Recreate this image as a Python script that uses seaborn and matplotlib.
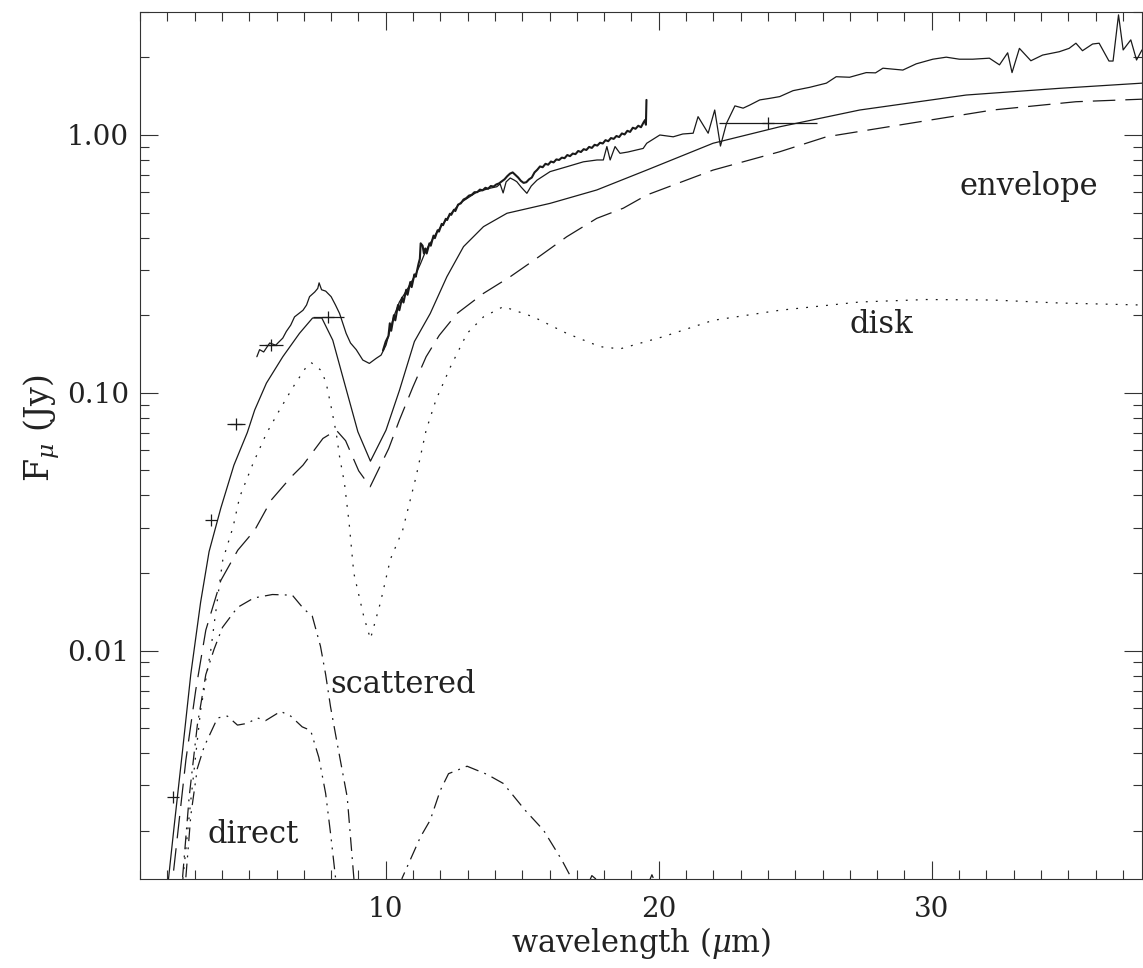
import numpy as np
import matplotlib
matplotlib.use("Agg")
import matplotlib.pyplot as plt
from matplotlib.ticker import MultipleLocator, LogLocator, NullFormatter
import seaborn as sns

# total model SED
model_wl = [2.00, 2.25, 2.56, 2.86, 3.22, 3.53, 3.96, 4.44, 4.93, 5.20, 5.63, 6.23, 6.84,
            7.32, 7.66, 8.06, 8.43, 8.98, 9.44, 10.01, 10.50, 11.05, 11.63, 12.24, 12.85,
            13.58, 14.44, 16.02, 17.73, 19.56, 21.99, 24.43, 27.36, 31.26, 34.67, 37.70]
model_flux = [0.00118, 0.00208, 0.00411, 0.00809, 0.0154, 0.0242, 0.0357, 0.0524, 0.0701,
              0.0857, 0.109, 0.138, 0.170, 0.195, 0.195, 0.160, 0.115, 0.0706, 0.0543,
              0.0716, 0.102, 0.158, 0.203, 0.282, 0.369, 0.441, 0.497, 0.543, 0.612, 0.731,
              0.929, 1.076, 1.250, 1.429, 1.517, 1.589]

# envelope component
env_wl = [2.10, 2.68, 3.04, 3.41, 3.96, 4.58, 5.20, 5.81, 6.54, 6.97, 7.70, 8.19, 8.53,
          9.01, 9.43, 10.11, 10.50, 10.99, 11.48, 11.96, 12.61, 13.58, 14.56, 15.54,
          16.63, 17.73, 18.70, 19.56, 21.99, 24.43, 26.14, 29.18, 32.23, 35.28, 37.70]
env_flux = [0.00105, 0.00376, 0.00701, 0.0120, 0.0187, 0.0245, 0.0293, 0.0384, 0.0472,
            0.0524, 0.0665, 0.0716, 0.0652, 0.0498, 0.0432, 0.0608, 0.0783, 0.105, 0.138,
            0.167, 0.203, 0.243, 0.282, 0.333, 0.403, 0.475, 0.520, 0.585, 0.731, 0.861,
            0.984, 1.109, 1.250, 1.346, 1.377]

# disk component
disk_wl = [2.57, 2.86, 3.22, 3.59, 3.75, 4.03, 4.41, 4.65, 5.14, 5.63, 6.11, 6.60, 7.09,
           7.27, 7.64, 7.82, 8.00, 8.19, 8.31, 8.49, 8.66, 8.83, 9.20, 9.44, 9.81, 10.17,
           10.62, 11.11, 11.48, 11.84, 12.37, 12.98, 13.58, 14.31, 15.41, 16.63, 17.85,
           18.58, 20.16, 21.99, 24.43, 27.36, 29.80, 32.23, 34.67, 37.70]
disk_flux = [0.0013, 0.00262, 0.00587, 0.0100, 0.0135, 0.0224, 0.0302, 0.0394, 0.0532,
             0.0695, 0.0857, 0.105, 0.126, 0.131, 0.122, 0.109, 0.0883, 0.0695, 0.0565,
             0.0445, 0.0312, 0.0200, 0.0135, 0.0111, 0.0154, 0.0226, 0.0293, 0.0472,
             0.0716, 0.0938, 0.126, 0.170, 0.197, 0.216, 0.197, 0.170, 0.151, 0.148, 0.165,
             0.191, 0.209, 0.225, 0.230, 0.229, 0.223, 0.219]

# scattered light
scat_wl = [2.56, 2.80, 3.10, 3.41, 3.71, 4.02, 4.57, 5.17, 5.85, 6.58, 7.00, 7.31, 7.61,
           7.80, 7.98, 8.22, 8.59, 8.83, 9.20, 10.00, 10.60, 11.27, 11.63, 12.00, 12.30,
           12.98, 13.71, 14.31, 15.11, 15.78, 16.45, 16.82, 17.20, 17.55, 17.85, 18.20,
           19.40, 19.75, 20.10, 21.00]
scat_flux = [0.00132, 0.0027, 0.00514, 0.00807, 0.0101, 0.0123, 0.0147, 0.0160, 0.0165,
             0.0164, 0.0145, 0.0136, 0.0104, 0.00807, 0.00604, 0.00438, 0.0027, 0.00132,
             0.0005, 0.0005, 0.00131, 0.00189, 0.0022, 0.00287, 0.00333, 0.00356, 0.00331,
             0.00305, 0.0024, 0.00201, 0.00154, 0.0013, 0.0011, 0.00134, 0.00126, 0.0011,
             0.0011, 0.00135, 0.0011, 0.0008]

# direct stellar light
direct_wl = [2.68, 2.86, 3.10, 3.35, 3.84, 4.20, 4.57, 4.93, 5.30, 5.60, 6.15, 6.52, 6.94,
             7.25, 7.55, 7.80, 7.98, 8.16, 8.40]
direct_flux = [0.00132, 0.00229, 0.00349, 0.00424, 0.00548, 0.00557, 0.00514, 0.00522,
               0.00548, 0.00535, 0.00581, 0.00557, 0.00506, 0.0049, 0.00385, 0.00279,
               0.00195, 0.00132, 0.0008]

# low resolution spectrum
spec_wl = [5.28, 5.38, 5.53, 5.75, 5.97, 6.23, 6.36, 6.52, 6.66, 6.97, 7.10, 7.21, 7.40,
           7.51, 7.56, 7.65, 7.80, 8.00, 8.16, 8.31, 8.55, 8.71, 8.92, 9.16, 9.40, 9.65,
           9.83, 10.01, 10.29, 10.50, 10.78, 11.11, 11.27, 11.48, 11.88, 12.37, 12.73,
           13.34, 13.83, 14.07, 14.19, 14.30, 14.41, 14.56, 14.71, 14.80, 14.96, 15.17,
           15.33, 15.54, 16.02, 16.63, 17.24, 17.74, 17.97, 18.10, 18.22, 18.40, 18.58,
           18.87, 19.19, 19.43, 19.56, 20.04, 20.53, 20.88, 21.26, 21.44, 21.81, 22.05,
           22.26, 22.48, 22.79, 23.09, 23.33, 23.70, 24.06, 24.43, 24.92, 25.53, 26.14,
           26.50, 26.99, 27.60, 27.94, 28.21, 28.94, 29.43, 30.04, 30.53, 31.01, 31.50,
           32.11, 32.48, 32.78, 32.94, 33.21, 33.63, 34.06, 34.67, 35.03, 35.28, 35.52,
           35.89, 36.13, 36.49, 36.64, 36.84, 37.01, 37.29, 37.50, 37.70]
spec_flux = [0.138, 0.147, 0.144, 0.156, 0.153, 0.163, 0.173, 0.183, 0.197, 0.209, 0.219,
             0.236, 0.246, 0.254, 0.267, 0.251, 0.248, 0.236, 0.219, 0.203, 0.170, 0.156,
             0.147, 0.134, 0.130, 0.136, 0.140, 0.153, 0.197, 0.225, 0.251, 0.290, 0.316,
             0.358, 0.421, 0.493, 0.545, 0.601, 0.622, 0.630, 0.646, 0.596, 0.658, 0.681,
             0.668, 0.659, 0.628, 0.594, 0.634, 0.668, 0.721, 0.753, 0.787, 0.800, 0.800,
             0.902, 0.800, 0.902, 0.849, 0.859, 0.875, 0.887, 0.929, 1.000, 0.984, 1.009,
             1.016, 1.178, 1.016, 1.250, 0.906, 1.109, 1.297, 1.271, 1.306, 1.368, 1.387,
             1.409, 1.486, 1.531, 1.589, 1.683, 1.675, 1.746, 1.742, 1.816, 1.786, 1.888,
             1.968, 2.004, 1.968, 1.968, 1.986, 1.871, 2.084, 1.746, 2.168, 1.941, 2.042,
             2.104, 2.168, 2.270, 2.123, 2.254, 2.270, 1.936, 1.936, 2.924, 2.138, 2.339,
             1.954, 2.138]

# higher resolution (noisy) spectrum
irs_wl = [9.90, 10.00, 10.10, 10.15, 10.20, 10.30, 10.35, 10.45, 10.50, 10.60, 10.65,
          10.75, 10.80, 10.90, 10.95, 11.05, 11.10, 11.20, 11.25, 11.28, 11.35, 11.40,
          11.45, 11.50, 11.60, 11.65, 11.75, 11.80, 11.90, 11.95, 12.05, 12.10, 12.20,
          12.25, 12.35, 12.40, 12.50, 12.55, 12.65, 12.75, 12.85, 12.95, 13.05, 13.15,
          13.25, 13.35, 13.45, 13.55, 13.65, 13.75, 13.85, 13.95, 14.05, 14.15, 14.25,
          14.35, 14.45, 14.55, 14.65, 14.75, 14.85, 14.95, 15.05, 15.15, 15.25, 15.35,
          15.45, 15.55, 15.65, 15.75, 15.85, 15.95, 16.05, 16.15, 16.25, 16.35, 16.45,
          16.55, 16.65, 16.75, 16.85, 16.95, 17.05, 17.15, 17.25, 17.35, 17.45, 17.55,
          17.65, 17.75, 17.85, 17.95, 18.05, 18.15, 18.25, 18.35, 18.45, 18.55, 18.65,
          18.75, 18.85, 18.95, 19.05, 19.15, 19.25, 19.35, 19.45, 19.50, 19.53, 19.55]
irs_flux = [0.146, 0.158, 0.166, 0.186, 0.174, 0.200, 0.191, 0.219, 0.209, 0.234, 0.224,
            0.251, 0.240, 0.269, 0.257, 0.288, 0.282, 0.316, 0.331, 0.380, 0.372, 0.347,
            0.363, 0.347, 0.380, 0.372, 0.407, 0.398, 0.427, 0.422, 0.452, 0.447, 0.473,
            0.468, 0.495, 0.490, 0.513, 0.507, 0.537, 0.543, 0.562, 0.569, 0.582, 0.586,
            0.600, 0.600, 0.614, 0.610, 0.624, 0.619, 0.634, 0.631, 0.643, 0.649, 0.661,
            0.673, 0.692, 0.708, 0.716, 0.700, 0.684, 0.664, 0.652, 0.656, 0.673, 0.684,
            0.716, 0.733, 0.755, 0.750, 0.773, 0.767, 0.789, 0.783, 0.804, 0.800, 0.817,
            0.813, 0.836, 0.828, 0.847, 0.843, 0.867, 0.859, 0.881, 0.875, 0.899, 0.891,
            0.916, 0.910, 0.933, 0.927, 0.955, 0.946, 0.973, 0.966, 0.991, 0.982, 1.014,
            1.005, 1.038, 1.028, 1.067, 1.057, 1.086, 1.072, 1.122, 1.143, 1.096, 1.368]

# photometry
phot_wl = [2.2, 3.6, 4.52, 5.8, 7.9, 24.0]
phot_flux = [0.0027, 0.032, 0.0756, 0.153, 0.197, 1.116]
phot_xerr = [0.0, 0.0, 0.33, 0.43, 0.57, 1.8]

labels = ["envelope", "disk", "scattered", "direct"]
label_pos = [(31.0, 0.585), (27.0, 0.170), (7.98, 0.00684), (3.49, 0.00179)]

sns.set_theme(style="ticks")
plt.rcParams["font.family"] = ["DejaVu Serif"]
plt.rcParams["mathtext.fontset"] = "dejavuserif"

fig = plt.figure(figsize=(11.43, 9.68), dpi=100)
ax = fig.add_axes([140 / 1143, 1 - 879 / 968, 1002 / 1143, 867 / 968])
ax.set_yscale("log")

lw = 0.9
sns.lineplot(x=model_wl, y=model_flux, ax=ax, color="k", lw=lw, sort=False, estimator=None)
sns.lineplot(x=env_wl, y=env_flux, ax=ax, color="k", lw=lw, sort=False, estimator=None,
             linestyle=(0, (18, 8)))
sns.lineplot(x=disk_wl, y=disk_flux, ax=ax, color="k", lw=lw, sort=False, estimator=None,
             linestyle=(0, (1.5, 6.5)))
sns.lineplot(x=scat_wl, y=scat_flux, ax=ax, color="k", lw=lw, sort=False, estimator=None,
             linestyle=(0, (11, 5, 1.5, 5)))
sns.lineplot(x=direct_wl, y=direct_flux, ax=ax, color="k", lw=lw, sort=False, estimator=None,
             linestyle=(0, (11, 5, 1.5, 5, 1.5, 5)))
sns.lineplot(x=spec_wl, y=spec_flux, ax=ax, color="k", lw=lw, sort=False, estimator=None)
sns.lineplot(x=irs_wl, y=irs_flux, ax=ax, color="k", lw=1.5, sort=False, estimator=None)
ax.errorbar(phot_wl, phot_flux, xerr=phot_xerr, fmt="+", color="k", ms=9, mew=0.9,
            elinewidth=0.9, capsize=0)

for txt, (tx, ty) in zip(labels, label_pos):
    ax.text(tx, ty, txt, fontsize=22, color="#222222", ha="left", va="baseline")

ax.set_xlim(1.0, 37.7)
ax.set_ylim(0.0013, 3.0)
ax.xaxis.set_major_locator(MultipleLocator(10))
ax.xaxis.set_minor_locator(MultipleLocator(1))
ax.yaxis.set_major_locator(LogLocator(base=10, numticks=10))
ax.yaxis.set_minor_locator(LogLocator(base=10, subs=np.arange(2, 10), numticks=20))
ax.yaxis.set_major_formatter(plt.FuncFormatter(lambda v, p: f"{v:.2f}"))
ax.yaxis.set_minor_formatter(NullFormatter())

ax.tick_params(which="both", direction="in", top=True, right=True, color="#333333",
               width=0.8)
ax.tick_params(which="major", length=13)
ax.tick_params(which="minor", length=6.5)
ax.tick_params(axis="x", which="major", labelsize=20, pad=12, labelcolor="#222222")
ax.tick_params(axis="y", which="major", labelsize=20, pad=8, labelcolor="#222222")
for s in ax.spines.values():
    s.set_linewidth(0.8)
    s.set_color("#333333")

ax.set_xlabel(r"wavelength ($\mu$m)", fontsize=22, color="#222222", labelpad=2)
ax.set_ylabel(r"F$_\mu$ (Jy)", fontsize=24, color="#222222")
ax.yaxis.set_label_coords(-0.078, 0.52)

fig.savefig("out.png", dpi=100)
